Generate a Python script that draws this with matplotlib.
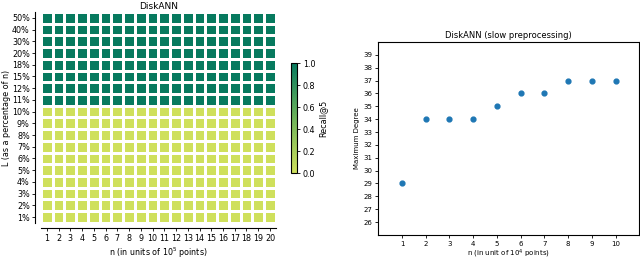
import matplotlib
matplotlib.use("Agg")
import matplotlib.pyplot as plt
import numpy as np
import seaborn as sns
from matplotlib.colors import LinearSegmentedColormap

# Heatmap data
n_labels = [str(i) for i in range(1, 21)]
L_labels = ["50%", "40%", "30%", "20%", "18%", "15%", "12%", "11%", "10%",
            "9%", "8%", "7%", "6%", "5%", "4%", "3%", "2%", "1%"]
recall_by_row = [1.0, 1.0, 1.0, 1.0, 1.0, 1.0, 1.0, 1.0, 0.0,
                 0.0, 0.0, 0.0, 0.0, 0.0, 0.0, 0.0, 0.0, 0.0]

# Scatter data
n_points = [1, 2, 3, 4, 5, 6, 7, 8, 9, 10]
max_degree = [29, 34, 34, 34, 35, 36, 36, 37, 37, 37]
y_ticks = list(range(26, 40))

recall = np.array([[v] * len(n_labels) for v in recall_by_row])

fig = plt.figure(figsize=(6.4, 2.61), dpi=100)

cmap = LinearSegmentedColormap.from_list("rc", ["#cfe05c", "#6db35a", "#077a5f"])

ax1 = fig.add_axes([0.064, 0.146, 0.367, 0.808])
cax = fig.add_axes([0.455, 0.337, 0.0094, 0.421])
sns.heatmap(recall, ax=ax1, cbar_ax=cax, cmap=cmap, vmin=0, vmax=1,
            linewidths=0.8, linecolor="white",
            xticklabels=n_labels, yticklabels=L_labels)
ax1.set_title("DiskANN", fontsize=6.5, pad=2)
ax1.set_xlabel("n (in units of $10^5$ points)", fontsize=5.8, labelpad=2)
ax1.set_ylabel("L (as a percentage of n)", fontsize=5.8, labelpad=1)
ax1.tick_params(axis="both", labelsize=5.8, length=2.5, width=0.6, pad=1.5)
ax1.tick_params(axis="x", rotation=0)
ax1.tick_params(axis="y", rotation=0)
for side in ["left", "bottom"]:
    ax1.spines[side].set_visible(True)
    ax1.spines[side].set_position(("outward", 4))
    ax1.spines[side].set_linewidth(0.8)
for side in ["top", "right"]:
    ax1.spines[side].set_visible(False)

cb = ax1.collections[0].colorbar
cb.set_ticks([0.0, 0.2, 0.4, 0.6, 0.8, 1.0])
cb.ax.tick_params(labelsize=5.8, length=2.5, width=0.6, pad=1.5)
cb.set_label("Recall@5", fontsize=5.8, labelpad=2)
cb.outline.set_visible(True)
cb.outline.set_linewidth(0.8)

ax2 = fig.add_axes([0.591, 0.1, 0.408, 0.739])
ax2.scatter(n_points, max_degree, s=12, color="#1f77b4", zorder=3)
ax2.set_xlim(0, 11)
ax2.set_ylim(25, 40)
ax2.set_xticks(n_points)
ax2.set_yticks(y_ticks)
ax2.tick_params(axis="both", labelsize=5, length=2.5, width=0.6, pad=2)
ax2.set_title("DiskANN (slow preprocessing)", fontsize=6, pad=3)
ax2.set_xlabel("n (in unit of $10^4$ points)", fontsize=5, labelpad=0.5)
ax2.set_ylabel("Maximum Degree", fontsize=5, labelpad=2)
for s in ax2.spines.values():
    s.set_linewidth(0.8)

fig.savefig("out.png", dpi=100)
